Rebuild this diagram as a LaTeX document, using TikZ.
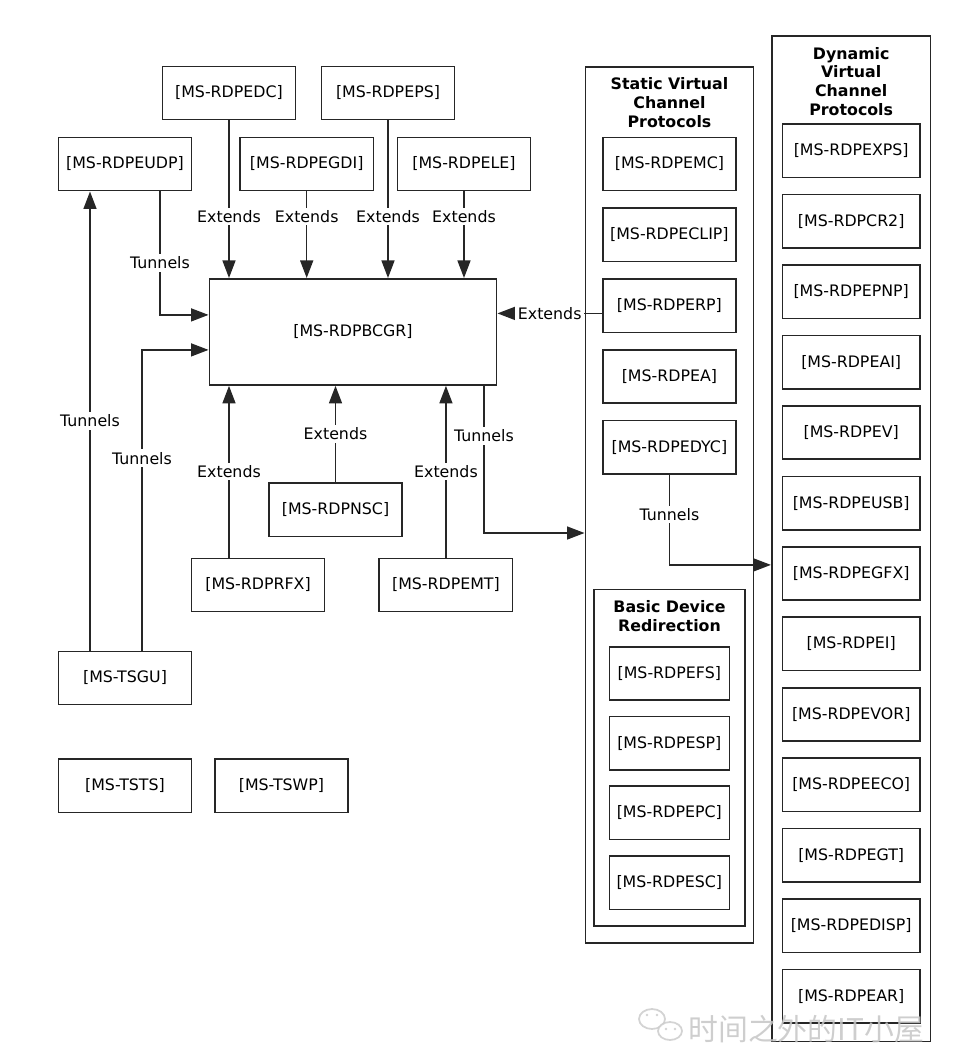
\documentclass[tikz,border=0pt]{standalone}
\usepackage{fontspec}
\setmainfont{DejaVu Sans}
\newfontfamily\cjkfont{Noto Sans CJK SC}
\usetikzlibrary{calc,positioning,chains,arrows.meta}
\tikzset{
>={Triangle[length=3.5mm,width=2.6mm]},
  protbox/.style={
    rectangle,
    draw=black!85, line width=0.9pt,
    minimum width=2.668cm,
    minimum height=1.068cm,
    inner sep=0pt,
    font=\fontsize{9}{11}\selectfont},
  statbox/.style={protbox, on chain},
  basbox/.style={protbox, minimum width=2.4cm, on chain},
  dynbox/.style={protbox, minimum width=2.754cm, on chain},
  group/.style={rectangle, draw=black!85, line width=0.9pt},
  grptitle/.style={align=center, font=\fontsize{9}{10.6}\selectfont\bfseries},
  line/.style={draw=black!85, thick, ->},
  lbl/.style={fill=white, inner sep=1.5pt, font=\fontsize{9}{11}\selectfont},
}
\begin{document}
\begin{tikzpicture}[x=0.02cm, y=-0.02cm]
\useasboundingbox (0,0) rectangle (967,1059);

% the three groups
\node[group, minimum width=3.368cm, minimum height=17.532cm] (static) at (669.5,505) {};
\node[grptitle] (stattitle) at (669.5,102.7) {Static Virtual\\Channel\\Protocols};
\node[group, minimum width=3.18cm, minimum height=20.114cm] (dynamic) at (851.2,538.9) {};
\node[grptitle] (dyntitle) at (851.2,81.3) {Dynamic\\Virtual\\Channel\\Protocols};
\node[group, minimum width=3.02cm, minimum height=6.734cm] (basic) at (669.5,757.7) {};
\node[grptitle] (bastitle) at (669.5,615.9) {Basic Device\\Redirection};

\begin{scope}[start chain=going below, node distance=.317cm]
	\node[statbox] (emc) at (669.4,164) {[MS-RDPEMC]};
	\node[statbox] (eclip) {[MS-RDPECLIP]};
	\node[statbox] (erp) {[MS-RDPERP]};
	\node[statbox] (ea) {[MS-RDPEA]};
	\node[statbox] (edyc) {[MS-RDPEDYC]};
\end{scope}

\begin{scope}[start chain=going below, node distance=.296cm]
	\node[basbox] (efs) at (669.3,673.4) {[MS-RDPEFS]};
	\node[basbox] (esp) {[MS-RDPESP]};
	\node[basbox] (epc) {[MS-RDPEPC]};
	\node[basbox] (esc) {[MS-RDPESC]};
\end{scope}

\begin{scope}[start chain=going below, node distance=.31cm]
	\node[dynbox] (exps) at (851.2,150.7) {[MS-RDPEXPS]};
	\node[dynbox] (cr2) {[MS-RDPCR2]};
	\node[dynbox] (epnp) {[MS-RDPEPNP]};
	\node[dynbox] (eai) {[MS-RDPEAI]};
	\node[dynbox] (ev) {[MS-RDPEV]};
	\node[dynbox] (eusb) {[MS-RDPEUSB]};
	\node[dynbox] (egfx) {[MS-RDPEGFX]};
	\node[dynbox] (ei) {[MS-RDPEI]};
	\node[dynbox] (evor) {[MS-RDPEVOR]};
	\node[dynbox] (eeco) {[MS-RDPEECO]};
	\node[dynbox] (egt) {[MS-RDPEGT]};
	\node[dynbox] (edisp) {[MS-RDPEDISP]};
	\node[dynbox] (ear) {[MS-RDPEAR]};
\end{scope}

% core and the protocols round it
\node[protbox, minimum width=5.748cm, minimum height=2.126cm] (bcgr) at (353,331.9) {[MS-RDPBCGR]};
\node[protbox] (edc) at (229,93) {[MS-RDPEDC]};
\node[protbox] (eps) at (388,93) {[MS-RDPEPS]};
\node[protbox] (eudp) at (125,164) {[MS-RDPEUDP]};
\node[protbox] (egdi) at (306.7,164) {[MS-RDPEGDI]};
\node[protbox] (ele) at (464,164) {[MS-RDPELE]};
\node[protbox] (nsc) at (335.5,509.7) {[MS-RDPNSC]};
\node[protbox] (rfx) at (258,585) {[MS-RDPRFX]};
\node[protbox, right=1.06cm of rfx] (emt) {[MS-RDPEMT]};
\node[protbox] (tsgu) at (125,678) {[MS-TSGU]};
\node[protbox, below=1.06cm of tsgu] (tsts) {[MS-TSTS]};
\node[protbox, right=.43cm of tsts] (tswp) {[MS-TSWP]};

% extends
\draw[line] (edc) -- (edc |- bcgr.north) node[lbl, pos=.61] {Extends};
\draw[line] (egdi) -- (egdi |- bcgr.north) node[lbl, pos=.29] {Extends};
\draw[line] (eps) -- (eps |- bcgr.north) node[lbl, pos=.61] {Extends};
\draw[line] (ele) -- (ele |- bcgr.north) node[lbl, pos=.29] {Extends};
\draw[line] (rfx.north -| edc) -- (bcgr.south -| edc) node[lbl, pos=.5] {Extends};
\draw[line] (nsc) -- (nsc |- bcgr.south) node[lbl, pos=.5] {Extends};
\draw[line] (emt) -- (emt |- bcgr.south) node[lbl, pos=.5] {Extends};
\coordinate (erpin) at ($(bcgr.east)+(0,-18.5)$);
\draw[line] (erp.west |- erpin) -- (erpin) node[lbl, pos=.5] {Extends};

% tunnels
\draw[line] ($(eudp.south)+(35,0)$) |- ($(bcgr.west)+(0,-17)$) node[lbl, pos=.29] {Tunnels};
\draw[line] ($(tsgu.north)+(-35,0)$) -- ($(eudp.south)+(-35,0)$) node[lbl, pos=.5] {Tunnels};
\draw[line] ($(tsgu.north)+(17,0)$) |- ($(bcgr.west)+(0,18)$) node[lbl, pos=.32] {Tunnels};
\draw[line] ($(bcgr.south east)+(-13.5,0)$) |- ($(static.west)+(0,28)$) node[lbl, pos=.17] {Tunnels};
\draw[line] (edyc) |- ($(dynamic.west)+(0,26)$) node[lbl, pos=.22] {Tunnels};

% watermark
\begin{scope}[draw=gray!40, line width=1pt, opacity=.85]
	\draw[fill=white] (652,1019) ellipse [x radius=13, y radius=10];
	\draw[fill=white] (670,1031) ellipse [x radius=12, y radius=9];
	\fill[gray!40] (647,1015) circle (1.3) (657,1015) circle (1.3)
		(666,1029) circle (1.3) (675,1029) circle (1.3);
\end{scope}
\node[text=gray!45, text opacity=.85, anchor=west, inner sep=0pt,
	font=\cjkfont\fontsize{17}{17}\selectfont] (wmark) at (688,1029) {时间之外的IT小屋};
\end{tikzpicture}
\end{document}
